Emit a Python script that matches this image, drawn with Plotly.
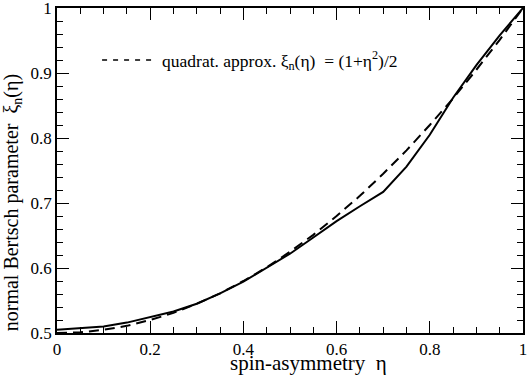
import plotly.graph_objects as go

# spin asymmetry eta
eta = [0, 0.05, 0.1, 0.15, 0.2, 0.25, 0.3, 0.35, 0.4, 0.45, 0.5,
       0.55, 0.6, 0.65, 0.7, 0.75, 0.8, 0.85, 0.9, 0.95, 1.0]

# normal Bertsch parameter (solid curve)
xi_n = [0.505, 0.507, 0.51, 0.516, 0.524, 0.533, 0.545, 0.561, 0.579, 0.6, 0.622,
        0.647, 0.672, 0.695, 0.717, 0.756, 0.805, 0.862, 0.912, 0.958, 1.0]

# quadratic approximation (dashed curve)
xi_quad = [0.5, 0.501, 0.505, 0.511, 0.52, 0.531, 0.545, 0.561, 0.58, 0.601, 0.625,
           0.651, 0.68, 0.711, 0.745, 0.781, 0.82, 0.861, 0.905, 0.951, 1.0]

legend_label = "quadrat. approx. ξ<sub>n</sub>(η)  = (1+η<sup>2</sup>)/2"
x_title = "spin-asymmetry  η"
y_title = "normal Bertsch parameter  ξ<sub>n</sub>(η)"

FONT = "Liberation Serif"

fig = go.Figure()

fig.add_trace(go.Scatter(
    x=eta, y=xi_n, mode="lines",
    line=dict(color="black", width=2),
    showlegend=False,
))
fig.add_trace(go.Scatter(
    x=eta, y=xi_quad, mode="lines",
    line=dict(color="black", width=2, dash="10px,6px"),
    showlegend=False,
))
# legend entry only (shorter dashes as in the original legend)
fig.add_trace(go.Scatter(
    x=[None], y=[None], mode="lines",
    line=dict(color="black", width=1.5, dash="5px,6px"),
    name=legend_label,
))

axis_common = dict(
    showgrid=False, zeroline=False, automargin=False,
    showline=True, linecolor="black", linewidth=1.5, mirror="allticks",
    ticks="inside", ticklen=12, tickwidth=1.2, tickcolor="black",
    ticklabeloverflow="allow",
    tickfont=dict(family=FONT, size=17, color="black"),
)

fig.update_xaxes(
    range=[0, 1], dtick=0.2,
    minor=dict(dtick=0.05, ticks="inside", ticklen=6, tickwidth=1.2, tickcolor="black"),
    **axis_common
)
fig.update_yaxes(
    range=[0.5, 1], dtick=0.1,
    minor=dict(dtick=0.02, ticks="inside", ticklen=6, tickwidth=1.2, tickcolor="black"),
    **axis_common
)

# axis titles as annotations (they sit a bit off-centre in the original)
fig.add_annotation(
    text=x_title, xref="paper", yref="paper", x=0.54, y=-0.093,
    xanchor="center", yanchor="middle", showarrow=False,
    font=dict(family=FONT, size=21, color="black"),
)
fig.add_annotation(
    text=y_title, xref="paper", yref="paper", x=-0.096, y=0.40,
    xanchor="center", yanchor="middle", textangle=-90, showarrow=False,
    font=dict(family=FONT, size=20, color="black"),
)

fig.update_layout(
    width=529, height=376,
    margin=dict(l=57, r=6, t=8, b=43),
    plot_bgcolor="white", paper_bgcolor="white",
    font=dict(family=FONT, color="black"),
    legend=dict(
        x=0.086, y=0.84, xanchor="left", yanchor="middle", itemwidth=55,
        bgcolor="rgba(0,0,0,0)", font=dict(family=FONT, size=17.5, color="black"),
    ),
)

# drop the default page margin so the figure sits at the window's corner
fig.write_html("out.html", config={"displayModeBar": False},
               post_script="document.body.style.margin='0';")
